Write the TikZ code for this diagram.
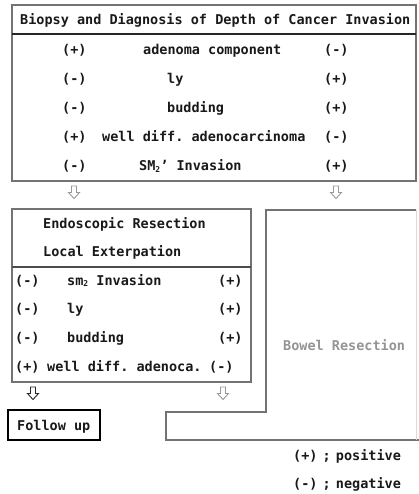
\documentclass[tikz,border=0pt]{standalone}
\usepackage{fontspec}
\setmonofont{DejaVu Sans Mono}
\begin{document}
\begin{tikzpicture}[x=1pt,y=-1pt,
  txt/.style={font=\ttfamily\bfseries\fontsize{13.5}{16}\selectfont, inner sep=0pt, text=black!90, anchor=base west},
  greytxt/.style={txt, text=black!42},
  frame/.style={draw=black!55, line width=1.1pt},
  rule/.style={draw=black!85, line width=1.1pt},
  hollowdown/.pic={\draw[pic actions] (-2.5,0) -- (2.5,0) -- (2.5,6.5) -- (5.5,6.5) -- (0,12.5) -- (-5.5,6.5) -- (-2.5,6.5) -- cycle;},
  lightarrow/.style={draw=black!40, line width=0.9pt},
  darkarrow/.style={draw=black!85, line width=0.9pt}]
\useasboundingbox (0,0) rectangle (419,494);

% top box: biopsy findings
\draw[frame] (12,5) rectangle (416,181);
\draw[rule] (12,34) -- (416,34);
\node[txt] (head) at (20,25) {Biopsy and Diagnosis of Depth of Cancer Invasion};

\node[txt] (t1l) at (62,55) {(+)};
\node[txt] (t1m) at (143,55) {adenoma component};
\node[txt] (t1r) at (324,55) {(-)};
\node[txt] (t2l) at (62,84) {(-)};
\node[txt] (t2m) at (167,84) {ly};
\node[txt] (t2r) at (324,84) {(+)};
\node[txt] (t3l) at (62,113) {(-)};
\node[txt] (t3m) at (167,113) {budding};
\node[txt] (t3r) at (324,113) {(+)};
\node[txt] (t4l) at (62,142) {(+)};
\node[txt] (t4m) at (102,142) {well diff. adenocarcinoma};
\node[txt] (t4r) at (324,142) {(-)};
\node[txt] (t5l) at (62,171) {(-)};
\node[txt] (t5m) at (139,171) {SM\raisebox{-0.1em}{\fontsize{8}{8}\selectfont 2}’ Invasion};
\node[txt] (t5r) at (324,171) {(+)};

% arrows below the top box
\pic[lightarrow] (arrL) at (74,186) {hollowdown};
\pic[lightarrow] (arrR) at (336,186) {hollowdown};

% left box: local treatment
\draw[frame] (12,209) rectangle (251,382);
\draw[rule, draw=black!70] (12,267) -- (251,267);
\node[txt] (endo) at (43,228) {Endoscopic Resection};
\node[txt] (local) at (43,256) {Local Exterpation};

\node[txt] (l1l) at (15,285) {(-)};
\node[txt] (l1m) at (67,285) {sm\raisebox{-0.1em}{\fontsize{8}{8}\selectfont 2} Invasion};
\node[txt] (l1r) at (218,285) {(+)};
\node[txt] (l2l) at (15,313) {(-)};
\node[txt] (l2m) at (67,313) {ly};
\node[txt] (l2r) at (218,313) {(+)};
\node[txt] (l3l) at (15,342) {(-)};
\node[txt] (l3m) at (67,342) {budding};
\node[txt] (l3r) at (218,342) {(+)};
\node[txt] (l4l) at (15,371) {(+)};
\node[txt] (l4m) at (47,371) {well diff. adenoca.};
\node[txt] (l4r) at (209,371) {(-)};

% right region: bowel resection outline
\draw[frame] (416,210) -- (266,210) -- (266,412) -- (166,412) -- (166,440) -- (419,440);
\draw[draw=black!15, line width=0.8pt] (416,210) -- (416,440);
\node[greytxt] (bowel) at (283,350) {Bowel Resection};

% arrows below the left box
\pic[darkarrow] (arrF) at (33,387) {hollowdown};
\pic[lightarrow] (arrB) at (223,387) {hollowdown};

% follow-up box
\draw[draw=black, line width=1.4pt] (8,410) rectangle (100,440);
\node[txt] (follow) at (17,430) {Follow up};

% legend
\node[txt] (legp) at (293,460) {(+)\hspace{-3pt} ;\hspace{-3pt} positive};
\node[txt] (legn) at (293,488) {(-)\hspace{-3pt} ;\hspace{-3pt} negative};
\end{tikzpicture}
\end{document}
